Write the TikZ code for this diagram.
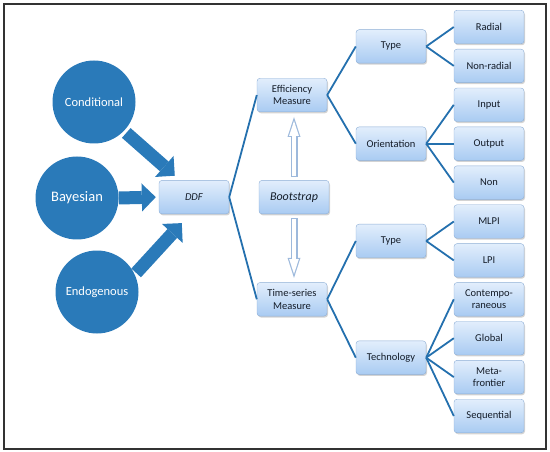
\documentclass[tikz,border=0pt]{standalone}
\usepackage{fontspec}
\setmainfont{Carlito}
\usepackage{tikz}
\usetikzlibrary{arrows.meta, positioning, calc, shadows}
\definecolor{cblue}{HTML}{2A7AB9}
\definecolor{lblue}{HTML}{2470AE}
\definecolor{boxtop}{HTML}{E2EEFC}
\definecolor{boxbot}{HTML}{A9CBF2}
\definecolor{boxedge}{HTML}{8DAED6}
\definecolor{boxtext}{HTML}{141C28}
\definecolor{hollowedge}{HTML}{9DB9DC}
\tikzstyle{box} = [rectangle, rounded corners=3pt, minimum width=70pt, minimum height=33.5pt, inner sep=1pt, text width=66pt, align=center, draw=boxedge, top color=boxtop, bottom color=boxbot, text=boxtext, font=\fontsize{10.5}{12.5}\selectfont, drop shadow={shadow xshift=1pt, shadow yshift=-1.5pt, opacity=0.35}]
\tikzstyle{source} = [circle, fill=cblue, minimum size=83pt, inner sep=0pt, text=white, font=\fontsize{12.5}{14}\selectfont]
\tikzstyle{link} = [draw=lblue, line width=1.8pt]
\tikzstyle{fat} = [draw=cblue, line width=13pt, -{Triangle[length=14pt,width=28pt,line width=0pt]}]
\tikzset{
	hollowout/.style = {draw=hollowedge, line width=7pt, -{Triangle[length=20pt,width=13pt,line width=0pt]}},
	hollowin/.style = {draw=white, line width=4.6pt, -{Triangle[length=14.9pt,width=9.7pt,line width=0pt]}}
}

\begin{document}
\begin{tikzpicture}[node distance=38.9pt]
\useasboundingbox (0,0) rectangle (550pt,-452pt);
\draw [line width=1.6pt, black!80] (4pt,-4pt) rectangle (546pt,-449pt);
%----------------------------------------------------------------------------
% Placement of leaves
\node (radial) [box] at (489pt,-27pt) {Radial};
\node (nonradial) [box, below of = radial] {Non-radial};
\node (input) [box, below of = nonradial] {Input};
\node (output) [box, below of = input] {Output};
\node (non) [box, below of = output] {Non};
\node (mlpi) [box, below of = non] {MLPI};
\node (lpi) [box, below of = mlpi] {LPI};
\node (contemp) [box, below of = lpi] {Contempo-\\raneous};
\node (global) [box, below of = contemp] {Global};
\node (meta) [box, below of = global] {Meta-\\frontier};
\node (sequential) [box, below of = meta] {Sequential};

% Middle columns
\node (typeEff) [box, left of = radial, node distance = 98pt, yshift=-19.45pt] {Type};
\node (orient) [box, left of = output, node distance = 98pt] {Orientation};
\node (typeTS) [box, left of = mlpi, node distance = 98pt, yshift=-19.45pt] {Type};
\node (tech) [box, left of = global, node distance = 98pt, yshift=-19.45pt] {Technology};

\node (eff) [box, left of = typeEff, node distance = 99pt, yshift=-48.6pt] {Efficiency\\Measure};
\node (ts) [box, left of = contemp, node distance = 197pt] {Time-series\\Measure};
\node (ddf) [box, below of = eff, node distance = 102.1pt, xshift=-98pt] {\textit{DDF}};
\node (boot) [box, right of = ddf, node distance = 100pt, font=\fontsize{12}{14}\selectfont] {\textit{Bootstrap}};

% Sources
\node (cond) [source] at (94pt,-102pt) {Conditional};
\node (bayes) [source, font=\fontsize{14.5}{16}\selectfont] at (77pt,-198pt) {Bayesian};
\node (endo) [source] at (97pt,-292pt) {Endogenous};

%----------------------------------------------------------------------------
% Lines
\draw [link] (ddf.east) -- (eff.west);
\draw [link] (ddf.east) -- (ts.west);
\draw [link] (eff.east) -- (typeEff.west);
\draw [link] (eff.east) -- (orient.west);
\draw [link] (ts.east) -- (typeTS.west);
\draw [link] (ts.east) -- (tech.west);

\draw [link] (typeEff.east) -- (radial.west);
\draw [link] (typeEff.east) -- (nonradial.west);
\draw [link] (orient.east) -- (input.west);
\draw [link] (orient.east) -- (output.west);
\draw [link] (orient.east) -- (non.west);
\draw [link] (typeTS.east) -- (mlpi.west);
\draw [link] (typeTS.east) -- (lpi.west);
\draw [link] (tech.east) -- (contemp.west);
\draw [link] (tech.east) -- (global.west);
\draw [link] (tech.east) -- (meta.west);
\draw [link] (tech.east) -- (sequential.west);

%----------------------------------------------------------------------------
% Block arrows into DDF
\coordinate (condTip) at ([xshift=16pt,yshift=4.5pt]ddf.north west);
\coordinate (endoTip) at ([xshift=23pt,yshift=-9pt]ddf.south west);
\draw [fat, shorten <=3pt] (cond.-44) -- (condTip);
\draw [fat] (bayes.east) -- ([xshift=-3pt]ddf.west);
\draw [fat, shorten <=2pt] (endo.25) -- (endoTip);

% Bootstrap arrows
\draw [hollowout, shorten <=3pt, shorten >=5pt] (boot.north) -- (boot.north |- eff.south);
\draw [hollowin, shorten <=4.2pt, shorten >=8.9pt] (boot.north) -- (boot.north |- eff.south);
\draw [hollowout, shorten <=4pt, shorten >=4.5pt] (boot.south) -- (boot.south |- ts.north);
\draw [hollowin, shorten <=5.2pt, shorten >=8.4pt] (boot.south) -- (boot.south |- ts.north);
\end{tikzpicture}
\end{document}
